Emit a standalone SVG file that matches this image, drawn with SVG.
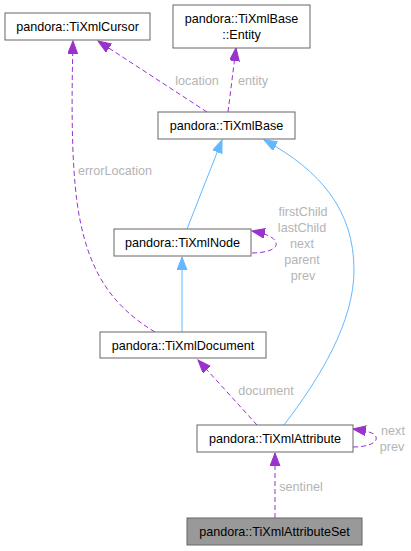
<svg xmlns="http://www.w3.org/2000/svg" width="411" height="551" viewBox="0 0 411 551">
<style>
.node rect{fill:#ffffff;stroke:#666666;stroke-width:1}
.node.sel rect{fill:#999999}
.node text{font-family:"Liberation Sans",Arial,sans-serif;font-size:12.6px;fill:#000000;text-anchor:middle}
.dep{fill:none;stroke:#9a32cd;stroke-width:1;stroke-dasharray:5,3}
.inh{fill:none;stroke:#63b8ff;stroke-width:1}
.lbl{font-family:"Liberation Sans",Arial,sans-serif;font-size:12.6px;fill:#b4b4b4;text-anchor:middle}
</style>
<defs>
<marker id="ap" markerUnits="userSpaceOnUse" markerWidth="14" markerHeight="11" refX="13" refY="5" orient="auto" viewBox="0 0 14 11">
<path d="M0,0 L13,5 L0,10 z" fill="#9a32cd" stroke="#9a32cd"/>
</marker>
<marker id="ab" markerUnits="userSpaceOnUse" markerWidth="14" markerHeight="11" refX="13" refY="5" orient="auto" viewBox="0 0 14 11">
<path d="M0,0 L13,5 L0,10 z" fill="#63b8ff" stroke="#63b8ff"/>
</marker>
</defs>
<rect width="411" height="551" fill="#ffffff"/>
<g id="connectors">
<path class="dep" d="M207,112 L98,41" marker-end="url(#ap)"/>
<text class="lbl" x="197" y="85">location</text>
<path class="dep" d="M228,112 L236,48" marker-end="url(#ap)"/>
<text class="lbl" x="253" y="85">entity</text>
<path class="dep" d="M155,332 C110,305 90,270 80,220 C72,180 71,120 73,41" marker-end="url(#ap)"/>
<text class="lbl" x="115" y="175">errorLocation</text>
<path class="inh" d="M187,229 L222,140" marker-end="url(#ab)"/>
<path class="inh" d="M182,332 L182,257" marker-end="url(#ab)"/>
<path class="inh" d="M284,425 C320,378 354,322 354,270 C354,210 320,170 264,140" marker-end="url(#ab)"/>
<path class="dep" d="M252,253 C266,253 278,249 276,243 C275,238 268,234 252,231" marker-end="url(#ap)"/>
<text class="lbl" x="303" y="215.5">firstChild</text>
<text class="lbl" x="302" y="231.5">lastChild</text>
<text class="lbl" x="302" y="247.5">next</text>
<text class="lbl" x="302" y="263.5">parent</text>
<text class="lbl" x="303" y="279.5">prev</text>
<path class="dep" d="M257,425 L198,360" marker-end="url(#ap)"/>
<text class="lbl" x="266" y="395">document</text>
<path class="dep" d="M353,447 C367,447 378,443 376,437 C375,433 368,431 353,429" marker-end="url(#ap)"/>
<text class="lbl" x="393" y="435">next</text>
<text class="lbl" x="392" y="451">prev</text>
<path class="dep" d="M275,518 L275,453" marker-end="url(#ap)"/>
<text class="lbl" x="301" y="491">sentinel</text>
</g>
<g id="node-cursor" class="node"><rect x="5" y="13" width="145" height="27"/><text x="77.5" y="31">pandora::TiXmlCursor</text></g>
<g id="node-entity" class="node"><rect x="173" y="5" width="137" height="43"/><text x="241.5" y="23">pandora::TiXmlBase</text><text x="241.5" y="39">::Entity</text></g>
<g id="node-base" class="node"><rect x="158" y="112" width="137" height="27"/><text x="226.5" y="130">pandora::TiXmlBase</text></g>
<g id="node-node" class="node"><rect x="114" y="229" width="137" height="27"/><text x="182.5" y="247">pandora::TiXmlNode</text></g>
<g id="node-document" class="node"><rect x="100" y="332" width="166" height="26"/><text x="183" y="350">pandora::TiXmlDocument</text></g>
<g id="node-attribute" class="node"><rect x="197" y="425" width="156" height="27"/><text x="275" y="443">pandora::TiXmlAttribute</text></g>
<g id="node-attributeset" class="node sel"><rect x="187" y="518" width="175" height="27"/><text x="274.5" y="536">pandora::TiXmlAttributeSet</text></g>
</svg>
